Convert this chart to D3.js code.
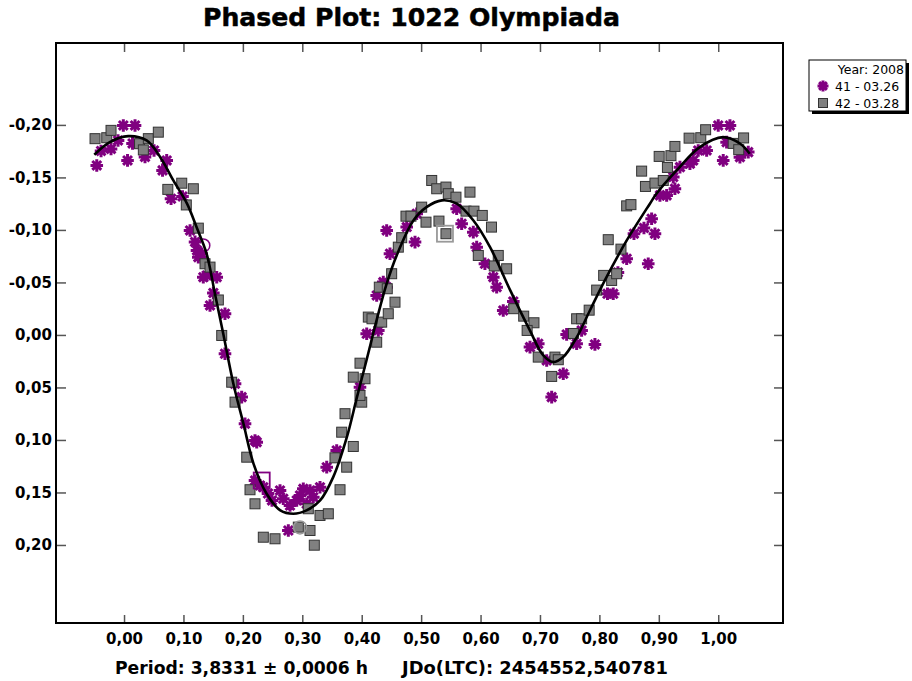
<!DOCTYPE html>
<html>
<head>
<meta charset="utf-8">
<script src="https://cdn.jsdelivr.net/npm/d3@7"></script>
<style>
  html, body { margin: 0; padding: 0; background: #fff; }
  svg { display: block; }
</style>
</head>
<body>
<svg id="chart" width="912" height="681"></svg>
<script>
// ---------- DATA ----------
const titleText = "Phased Plot: 1022 Olympiada";
const footerPeriod = "Period: 3,8331 ± 0,0006 h";
const footerJD = "JDo(LTC): 2454552,540781";
const legendTitle = "Year: 2008";
const seriesNames = ["41 - 03.26", "42 - 03.28"];
const xTicks = [0, 0.1, 0.2, 0.3, 0.4, 0.5, 0.6, 0.7, 0.8, 0.9, 1.0];
const yTicks = [-0.20, -0.15, -0.10, -0.05, 0, 0.05, 0.10, 0.15, 0.20];

// series 41 (purple asterisks): [phase, magnitude]
const series41 = [
  [-0.0459,-0.1614],[-0.0387,-0.1752],[-0.0219,-0.1771],[-0.0012,-0.1995],[0.0185,-0.1995],
  [0.0059,-0.1662],[0.0143,-0.1824],[0.0353,-0.1695],[0.0505,-0.1757],[0.0718,-0.1662],
  [0.0648,-0.1567],[0.0791,-0.1297],[0.0984,-0.1319],[0.1111,-0.0995],[0.1195,-0.0886],
  [0.1228,-0.0805],[0.1307,-0.0773],[0.1250,-0.0741],[0.1334,-0.0550],[0.1560,-0.0550],
  [0.1503,-0.0400],[0.1447,-0.0281],[0.1699,-0.0202],[0.1699,0.0179],[0.1868,0.0465],
  [0.1980,0.0592],[0.2036,0.0846],[0.2204,0.1005],[0.2233,0.1021],[0.2204,0.1386],
  [0.2344,0.1450],[0.2625,0.1481],[0.2680,0.1560],[0.3017,0.1465],[0.2906,0.1576],
  [0.3074,0.1608],[0.3185,0.1545],[0.3298,0.1450],[0.3411,0.1259],[0.3579,0.1100],
  [0.2765,0.1862],[0.4084,-0.0011],[0.4279,-0.0043],[0.4420,-0.0455],[0.4476,-0.0773],
  [0.3971,0.0497],[0.4252,-0.0376],[0.4363,-0.0503],[0.4420,-0.0995],[0.4897,-0.0884],
  [0.4757,-0.1027],[0.4925,-0.1154],[0.5598,-0.1202],[0.5682,-0.1059],[0.5878,-0.0979],
  [0.5935,-0.0836],[0.6074,-0.0678],[0.6214,-0.0550],[0.6271,-0.0455],[0.6382,-0.0233],
  [0.6551,-0.0319],[0.6832,0.0116],[0.6971,0.0084],[0.7113,0.0243],[0.7392,0.0370],
  [0.7197,0.0592],[0.7449,-0.0005],[0.7617,0.0084],[0.7701,-0.0043],[0.7925,0.0090],
  [0.8136,-0.0392],[0.8233,-0.0392],[0.8312,-0.0595],[0.8459,-0.0726],[0.8582,-0.0964],
  [0.8750,-0.1019],[0.8822,-0.0678],[0.8935,-0.0964],[0.8879,-0.1107],[0.9019,-0.1329],
  [0.9132,-0.1329],[0.9271,-0.1392],[0.9243,-0.1503],[0.9356,-0.1598],[0.9524,-0.1630],
  [0.9579,-0.1662],[0.9663,-0.1757],[0.9805,-0.1757],[1.0000,-0.1995],[1.0197,-0.1995],
  [1.0084,-0.1662],[1.0141,-0.1836],[1.0365,-0.1693],[1.0505,-0.1741],
  [0.2288,0.1433],[0.2423,0.1510],[0.2490,0.1576],[0.2793,0.1624],[0.2961,0.1529],
  [0.3130,0.1481],[0.1392,-0.0567],[-0.0101,-0.1852]
];

// series 42 (grey squares): [phase, magnitude]
const series42 = [
  [-0.0488,-0.1869],[-0.0291,-0.1878],[-0.0219,-0.1948],[0.0261,-0.1821],[0.0409,-0.1869],
  [0.0325,-0.1762],[0.0577,-0.1931],[0.0737,-0.1386],[0.0971,-0.1445],[0.1166,-0.1392],
  [0.1048,-0.1238],[0.1250,-0.1017],[0.1363,-0.0678],[0.1447,-0.0646],[0.1587,-0.0333],
  [0.1644,0.0005],[0.1812,0.0450],[0.1868,0.0640],[0.2065,0.1164],[0.2120,0.1474],
  [0.2204,0.1608],[0.2344,0.1926],[0.2541,0.1941],[0.2933,0.1830],[0.3130,0.1862],
  [0.3202,0.2002],[0.3101,0.1655],[0.3298,0.1719],[0.3438,0.1703],[0.3635,0.1474],
  [0.3747,0.1259],[0.3858,0.1062],[0.3550,0.1170],[0.3663,0.0926],[0.3719,0.0750],
  [0.4000,0.0640],[0.3971,0.0576],[0.3858,0.0402],[0.4055,0.0417],[0.3971,0.0269],
  [0.4252,0.0069],[0.4336,-0.0122],[0.4447,-0.0202],[0.4111,-0.0170],[0.4173,-0.0154],
  [0.4296,-0.0455],[0.4430,-0.0440],[0.4560,-0.0312],[0.4504,-0.0583],[0.4616,-0.0836],
  [0.4673,-0.0926],[0.4745,-0.1131],[0.4829,-0.1131],[0.5009,-0.1217],[0.5082,-0.1074],
  [0.5300,-0.1084],[0.5418,-0.0964],[0.5178,-0.1471],[0.5262,-0.1392],[0.5418,-0.1408],
  [0.5457,-0.1345],[0.5586,-0.1312],[0.5822,-0.1360],[0.5755,-0.1179],[0.5889,-0.1179],
  [0.6029,-0.1138],[0.6184,-0.1027],[0.5962,-0.0757],[0.6298,-0.0757],[0.6231,-0.0657],
  [0.6439,-0.0630],[0.6559,-0.0250],[0.6726,-0.0179],[0.6899,-0.0116],[0.6784,-0.0043],
  [0.6971,0.0211],[0.7252,0.0211],[0.7308,0.0236],[0.7197,0.0395],[0.7563,-0.0014],
  [0.7617,-0.0154],[0.7701,-0.0154],[0.7828,-0.0236],[0.7954,-0.0427],[0.8072,-0.0567],
  [0.8206,-0.0519],[0.8290,-0.0583],[0.8363,-0.0817],[0.8149,-0.0907],[0.8459,-0.1229],
  [0.8531,-0.1241],[0.8711,-0.1560],[0.8775,-0.1414],[0.8935,-0.1446],[0.9075,-0.1471],
  [0.9145,-0.1595],[0.9006,-0.1700],[0.9204,-0.1707],[0.9271,-0.1795],[0.9510,-0.1874],
  [0.9706,-0.1878],[0.9788,-0.1954],[1.0252,-0.1824],[1.0427,-0.1876],[1.0345,-0.1764]
];

// highlighted (hollow) reference markers: [phase, magnitude, series, shape]
const highlights = [
  [0.1334,-0.0852,"41","circle"],
  [0.2317,0.1386,"41","square"],
  [0.2961,0.1833,"42","circle"],
  [0.5401,-0.0964,"42","square"]
];

// fitted curve: [phase, magnitude]
const fitCurve = [
  [-0.050,-0.1716],[-0.024,-0.1836],[0.007,-0.1893],[0.038,-0.1852],[0.061,-0.1693],
  [0.083,-0.1471],[0.106,-0.1250],[0.122,-0.1027],[0.139,-0.0773],[0.153,-0.0392],
  [0.167,-0.0011],[0.184,0.0465],[0.201,0.0846],[0.218,0.1227],[0.240,0.1512],
  [0.263,0.1671],[0.285,0.1703],[0.307,0.1671],[0.330,0.1576],[0.352,0.1354],
  [0.375,0.0973],[0.392,0.0592],[0.408,0.0243],[0.425,-0.0138],[0.442,-0.0488],
  [0.459,-0.0760],[0.487,-0.1090],[0.509,-0.1217],[0.535,-0.1281],[0.560,-0.1250],
  [0.588,-0.1090],[0.616,-0.0836],[0.650,-0.0424],[0.683,-0.0043],[0.705,0.0190],
  [0.722,0.0259],[0.739,0.0211],[0.762,0.0021],[0.784,-0.0233],[0.812,-0.0550],
  [0.846,-0.0900],[0.885,-0.1250],[0.896,-0.1345],[0.930,-0.1567],[0.969,-0.1789],
  [1.008,-0.1884],[1.037,-0.1821],[1.053,-0.1726]
];

// ---------- LAYOUT ----------
const svg = d3.select("#chart");
const plot = { left: 56, top: 43, right: 783, bottom: 623 };
const FONT = "'DejaVu Sans', 'Liberation Sans', Arial, sans-serif";
const purple = "#800080";
const grey = "#808080";

const x = d3.scaleLinear().domain([-0.1145, 1.109]).range([plot.left, plot.right]);
const y = d3.scaleLinear().domain([-0.278, 0.2743]).range([plot.top, plot.bottom]);

const fmt = d => d3.format(".2f")(d).replace("−", "-").replace(".", ",");

// title
svg.append("text")
  .attr("x", 411.5).attr("y", 26)
  .attr("text-anchor", "middle")
  .attr("font-family", FONT).attr("font-weight", "bold").attr("font-size", 25)
  .attr("stroke", "#000").attr("stroke-width", 0.5)
  .attr("textLength", 417).attr("lengthAdjust", "spacingAndGlyphs")
  .text(titleText);

// axes (ticks pointing inwards)
const axisBottom = d3.axisBottom(x).tickValues(xTicks).tickFormat(fmt).tickSizeInner(-8).tickSizeOuter(0).tickPadding(10);
const axisTop = d3.axisTop(x).tickValues(xTicks).tickFormat("").tickSizeInner(-9).tickSizeOuter(0);
const axisLeft = d3.axisLeft(y).tickValues(yTicks).tickFormat(fmt).tickSizeInner(-10).tickSizeOuter(0).tickPadding(4);
const axisRight = d3.axisRight(y).tickValues(yTicks).tickFormat("").tickSizeInner(-9).tickSizeOuter(0);

function styleAxis(g) {
  g.select(".domain").remove();
  g.selectAll(".tick line").attr("stroke", "#555").attr("stroke-width", 1.5);
  g.selectAll(".tick text").attr("font-family", FONT).attr("font-weight", "bold")
    .attr("font-size", 15).attr("fill", "#000");
}
svg.append("g").attr("transform", `translate(0,${plot.bottom})`).call(axisBottom).call(styleAxis);
svg.append("g").attr("transform", `translate(0,${plot.top})`).call(axisTop).call(styleAxis);
svg.append("g").attr("transform", `translate(${plot.left},0)`).call(axisLeft).call(styleAxis);
svg.append("g").attr("transform", `translate(${plot.right},0)`).call(axisRight).call(styleAxis);

// clip
svg.append("clipPath").attr("id", "clip").append("rect")
  .attr("x", plot.left).attr("y", plot.top)
  .attr("width", plot.right - plot.left).attr("height", plot.bottom - plot.top);

const layer = svg.append("g").attr("clip-path", "url(#clip)");

// star marker path (8-armed asterisk)
function starPath(r) {
  const p = d3.path();
  for (let k = 0; k < 4; k++) {
    const a = k * Math.PI / 4;
    p.moveTo(-r * Math.cos(a), -r * Math.sin(a));
    p.lineTo(r * Math.cos(a), r * Math.sin(a));
  }
  return p.toString();
}
const STAR = starPath(6.3);

layer.append("g").selectAll("path").data(series41).join("path")
  .attr("d", STAR)
  .attr("transform", d => `translate(${x(d[0])},${y(d[1])})`)
  .attr("stroke", purple).attr("stroke-width", 3).attr("stroke-linecap", "butt")
  .attr("fill", "none");

const SQ = 10;
layer.append("g").selectAll("rect").data(series42).join("rect")
  .attr("x", d => x(d[0]) - SQ / 2).attr("y", d => y(d[1]) - SQ / 2)
  .attr("width", SQ).attr("height", SQ)
  .attr("fill", grey).attr("stroke", "#333").attr("stroke-width", 1);

// highlighted hollow markers
const hl = layer.append("g");
highlights.forEach(d => {
  const col = d[2] === "41" ? purple : "#999";
  if (d[3] === "circle") {
    hl.append("circle").attr("cx", x(d[0])).attr("cy", y(d[1])).attr("r", 6.5)
      .attr("fill", "none").attr("stroke", col).attr("stroke-width", 1.5);
  } else {
    hl.append("rect").attr("x", x(d[0]) - 8).attr("y", y(d[1]) - 8)
      .attr("width", 16).attr("height", 16)
      .attr("fill", "none").attr("stroke", col).attr("stroke-width", 1.8);
  }
});

// fitted curve
layer.append("path")
  .datum(fitCurve)
  .attr("d", d3.line().x(d => x(d[0])).y(d => y(d[1])).curve(d3.curveCatmullRom.alpha(0.5)))
  .attr("fill", "none").attr("stroke", "#000").attr("stroke-width", 2.6);

// frame
svg.append("rect")
  .attr("x", plot.left).attr("y", plot.top)
  .attr("width", plot.right - plot.left).attr("height", plot.bottom - plot.top)
  .attr("fill", "none").attr("stroke", "#000").attr("stroke-width", 2);

// footer
svg.append("text").attr("x", 115).attr("y", 674)
  .attr("font-family", FONT).attr("font-weight", "bold").attr("font-size", 17)
  .attr("textLength", 253).attr("lengthAdjust", "spacingAndGlyphs")
  .text(footerPeriod);
svg.append("text").attr("x", 402).attr("y", 674)
  .attr("font-family", FONT).attr("font-weight", "bold").attr("font-size", 17)
  .attr("textLength", 266).attr("lengthAdjust", "spacingAndGlyphs")
  .text(footerJD);

// legend
const lg = svg.append("g");
const L = { x: 809, y: 60, w: 97, h: 51 };
lg.append("rect").attr("x", L.x + 3).attr("y", L.y + 3).attr("width", L.w).attr("height", L.h).attr("fill", "#000");
lg.append("rect").attr("x", L.x).attr("y", L.y).attr("width", L.w).attr("height", L.h)
  .attr("fill", "#fff").attr("stroke", "#000").attr("stroke-width", 1);
lg.append("text").attr("x", L.x + L.w - 2).attr("y", L.y + 14)
  .attr("text-anchor", "end").attr("font-family", FONT).attr("font-size", 12.5)
  .text(legendTitle);
lg.append("path").attr("d", starPath(5.5)).attr("transform", `translate(${L.x + 14},${L.y + 26})`)
  .attr("stroke", purple).attr("stroke-width", 3).attr("fill", "none");
lg.append("text").attr("x", L.x + 26).attr("y", L.y + 31)
  .attr("font-family", FONT).attr("font-size", 12.5).text(seriesNames[0]);
lg.append("rect").attr("x", L.x + 14 - 4.5).attr("y", L.y + 43 - 4.5).attr("width", 9).attr("height", 9)
  .attr("fill", grey).attr("stroke", "#333").attr("stroke-width", 1);
lg.append("text").attr("x", L.x + 26).attr("y", L.y + 48)
  .attr("font-family", FONT).attr("font-size", 12.5).text(seriesNames[1]);
</script>
</body>
</html>
